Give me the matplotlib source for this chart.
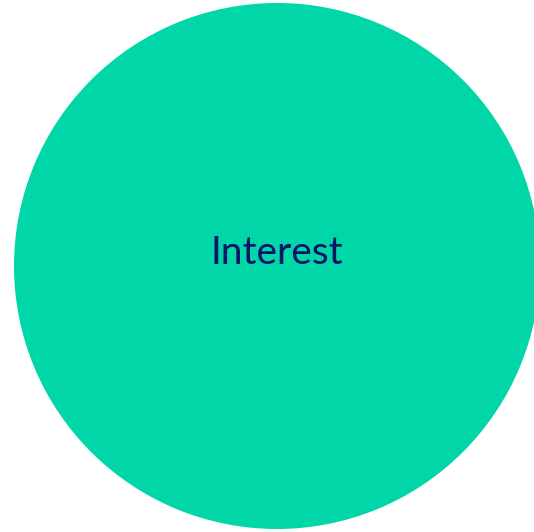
import matplotlib.pyplot as plt

# Single-slice pie
labels = ['Interest']
values = [100]
colors = ['#00D6A8']

fig = plt.figure(figsize=(5.34, 5.32), dpi=100)
ax = fig.add_axes([0, 0, 1, 1])

wedges, _ = ax.pie(values, colors=colors, center=(277, 266), radius=263,
                   startangle=90, frame=True)
ax.text(277, 253, labels[0], ha='center', va='center', fontsize=28,
        color='#0B1466', family=['Lato', 'DejaVu Sans'])

ax.set_xlim(0, 534)
ax.set_ylim(532, 0)
ax.set_aspect('auto')
ax.axis('off')

fig.savefig('out.png', dpi=100)
